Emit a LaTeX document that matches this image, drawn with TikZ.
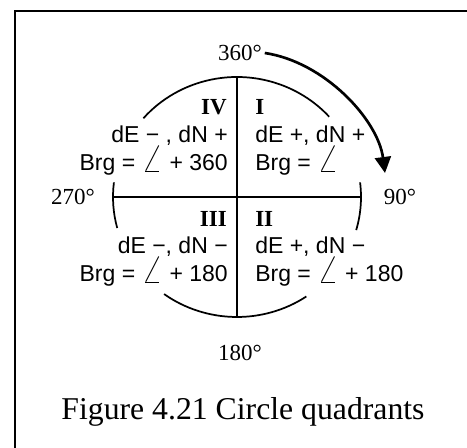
\documentclass[tikz,border=0pt]{standalone}
\usepackage{fontspec}
\setmainfont{Liberation Serif}
\setsansfont{Liberation Sans}
\usetikzlibrary{arrows.meta, positioning}
\newcommand{\brgangle}{{\fontsize{28}{28}\selectfont$\angle$}}

\begin{document}
\begin{tikzpicture}[x=0.75pt, y=0.75pt,
  deg/.style={font=\fontsize{17.25}{20}\selectfont, inner sep=2pt},
  quad/.style={font=\fontsize{17.25}{20}\selectfont\bfseries, inner sep=0pt},
  info/.style={font=\fontsize{17.25}{20}\selectfont\sffamily, inner sep=0pt},
  rim/.style={line width=1.3pt}]
  \useasboundingbox (-237,-251) rectangle (230,197);
  % frame
  \draw[line width=2.2pt] (-222,-270) rectangle (250,186);

  % axes
  \coordinate (N) at (0,120);
  \coordinate (S) at (0,-120);
  \coordinate (W) at (-124,0);
  \coordinate (E) at (125,0);
  \draw[rim] (N) -- (S);
  \draw[rim] (W) -- (E);

  % circle, broken round the texts
  \draw[rim] (42:124 and 120) arc[start angle=42, end angle=139, x radius=124, y radius=120];
  \draw[rim] (-16:124 and 120) arc[start angle=-16, end angle=7, x radius=124, y radius=120];
  \draw[rim] (173:124 and 120) arc[start angle=173, end angle=195, x radius=124, y radius=120];
  \draw[rim] (234:124 and 120) arc[start angle=234, end angle=304, x radius=124, y radius=120];

  % bearings
  \node[deg] (n360) at (3,144) {360°};
  \node[deg] (n90) at (163,0) {90°};
  \node[deg] (n180) at (3,-156) {180°};
  \node[deg] (n270) at (-164,0) {270°};

  % direction of bearing
  \coordinate (tip) at (148,24);
  \draw[line width=2pt, -{Triangle[length=12pt, width=12pt]}] (n360.east) .. controls (88,135) and (141,77) .. (tip);

  % quadrants
  \node[quad, anchor=base west] (q1) at (18,82) {I};
  \node[info, anchor=base west] (q1a) at (18,54) {dE +, dN +};
  \node[info, anchor=base west] (q1b) at (18,26) {Brg = \brgangle};

  \node[quad, anchor=base west] (q2) at (18,-30) {II};
  \node[info, anchor=base west] (q2a) at (18,-57) {dE +, dN −};
  \node[info, anchor=base west] (q2b) at (18,-85) {Brg = \brgangle{} + 180};

  \node[quad, anchor=base east] (q3) at (-10,-30) {III};
  \node[info, anchor=base east] (q3a) at (-9,-57) {dE −, dN −};
  \node[info, anchor=base east] (q3b) at (-9,-85) {Brg = \brgangle{} + 180};

  \node[quad, anchor=base east] (q4) at (-10,82) {IV};
  \node[info, anchor=base east] (q4a) at (-9,54) {dE − , dN +};
  \node[info, anchor=base east] (q4b) at (-9,26) {Brg = \brgangle{} + 360};

  % caption
  \node[font=\fontsize{23.8}{28}\selectfont, anchor=base] (cap) at (6,-223) {Figure 4.21 Circle quadrants};
\end{tikzpicture}
\end{document}
